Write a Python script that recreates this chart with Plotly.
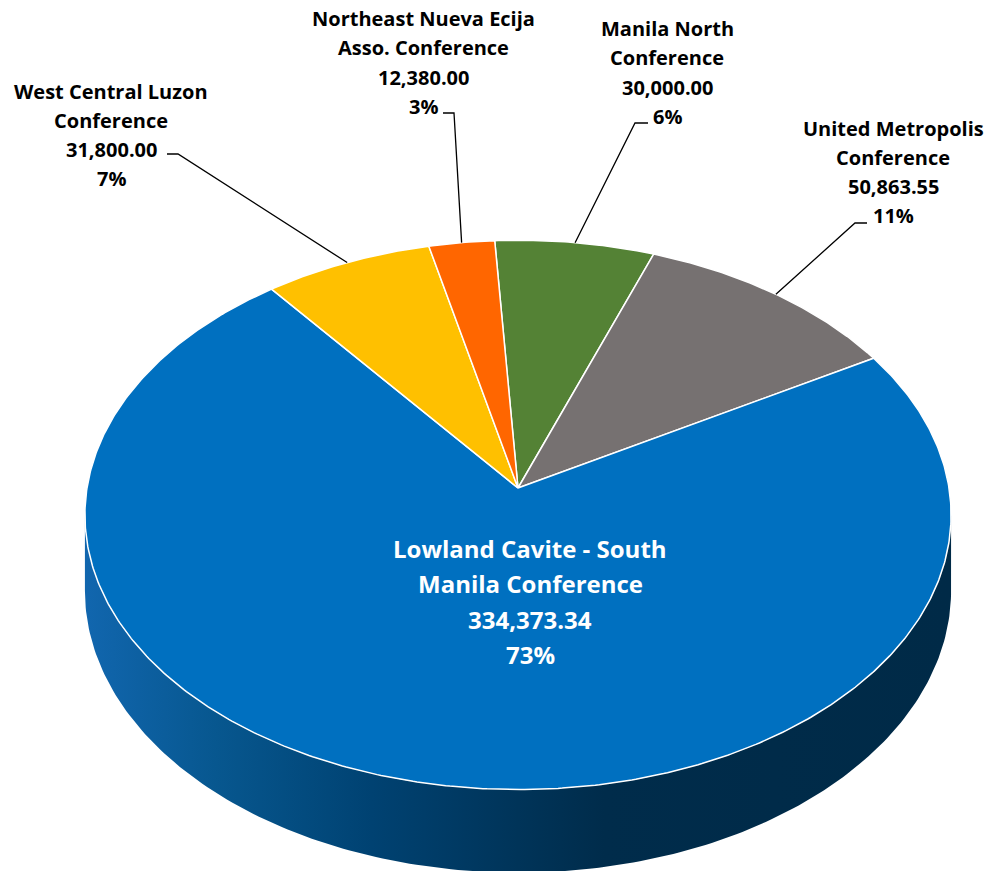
import numpy as np
import plotly.graph_objects as go

# ---------------- data ----------------
categories = [
    "Manila North Conference",
    "United Metropolis Conference",
    "Lowland Cavite - South Manila Conference",
    "West Central Luzon Conference",
    "Northeast Nueva Ecija Asso. Conference",
]
label_lines = [
    ["Manila North", "Conference"],
    ["United Metropolis", "Conference"],
    ["Lowland Cavite - South", "Manila Conference"],
    ["West Central Luzon", "Conference"],
    ["Northeast Nueva Ecija", "Asso. Conference"],
]
values = [30000.00, 50863.55, 334373.34, 31800.00, 12380.00]

# ---------------- style ----------------
colors = ["#548235", "#767171", "#0070C0", "#FFC000", "#FF6600"]
START_ANGLE = -3.4          # first slice angle (deg, clockwise from 12 o'clock)
CX, CY = 518, 488           # pie apex in pixel space
A, B = 431, 272             # horizontal / vertical radii
P = 0.098                   # perspective factor
H = 75                      # wall thickness
FONT = "Open Sans"

# label placement (center x, first line y, line spacing, font size, color)
label_pos = [
    (667, 28, 29.6, 20, "black"),
    (893, 128, 29.3, 20, "black"),
    (530, 548, 35.5, 24, "white"),
    (111, 91, 29.0, 20, "black"),
    (423, 18, 29.6, 20, "black"),
]
# leader anchor and elbow points (None -> no leader)
leaders = [
    ((648, 123), (635, 123)),
    ((867, 223), (855, 223)),
    None,
    ((167, 154), (178, 154)),
    ((443, 113), (454, 113)),
]

# ---------------- computations ----------------
vals = np.array(values, dtype=float)
total = vals.sum()
frac = vals / total
# largest-remainder percentage rounding
raw = frac * 100
pct = np.floor(raw).astype(int)
rem = raw - pct
for i in np.argsort(-rem)[: 100 - pct.sum()]:
    pct[i] += 1

def proj(alpha_deg, drop=0.0):
    a = np.radians(alpha_deg)
    d = 1 + P * np.cos(a)
    x = CX + A * np.sin(a) / d
    y = CY - B * np.cos(a) / d + drop / d
    return x, y

fig = go.Figure()

# side wall (front half)
a_ext = np.degrees(np.arccos(-P))
front = np.linspace(a_ext, 360 - a_ext, 200)
xt, yt = proj(front)
xb, yb = proj(front[::-1], drop=H)
fig.add_trace(go.Scatter(
    x=np.concatenate([xt, xb, xt[:1]]),
    y=np.concatenate([yt, yb, yt[:1]]),
    mode="lines", fill="toself",
    line=dict(width=0, color="rgba(0,0,0,0)"),
    fillgradient=dict(
        type="horizontal",
        colorscale=[[0, "#1166ae"], [0.15, "#07578f"], [0.33, "#004272"],
                    [0.5, "#003459"], [0.6, "#002c4b"], [1, "#002a47"]],
        start=CX - A, stop=CX + A,
    ),
    hoverinfo="skip", showlegend=False,
))

# top face slices
edges = START_ANGLE + np.concatenate([[0], np.cumsum(frac)]) * 360
mids = []
for i in range(len(vals)):
    a0, a1 = edges[i], edges[i + 1]
    n = max(int((a1 - a0) * 2), 8)
    arc = np.linspace(a0, a1, n)
    xs, ys = proj(arc)
    fig.add_trace(go.Scatter(
        x=np.concatenate([[CX], xs, [CX]]),
        y=np.concatenate([[CY], ys, [CY]]),
        mode="lines", fill="toself", fillcolor=colors[i],
        line=dict(color="white", width=1.5),
        hoverinfo="skip", showlegend=False,
    ))
    mids.append(proj((a0 + a1) / 2))

# leader lines
for i, ld in enumerate(leaders):
    if ld is None:
        continue
    (ax, ay), (ex, ey) = ld
    mx, my = mids[i]
    fig.add_trace(go.Scatter(
        x=[ax, ex, mx], y=[ay, ey, my], mode="lines",
        line=dict(color="black", width=1.3),
        hoverinfo="skip", showlegend=False,
    ))

# labels
for i in range(len(vals)):
    cx, y0, sp, fs, col = label_pos[i]
    lines = label_lines[i] + [f"{vals[i]:,.2f}", f"{pct[i]}%"]
    for k, t in enumerate(lines):
        fig.add_annotation(
            x=cx, y=y0 + k * sp, text=t, showarrow=False,
            xanchor="center", yanchor="middle",
            font=dict(family=FONT, size=fs, color=col, weight="bold"),
        )

fig.update_layout(
    width=990, height=871,
    margin=dict(l=0, r=0, t=0, b=0),
    paper_bgcolor="white", plot_bgcolor="white",
    xaxis=dict(range=[0, 990], visible=False, fixedrange=True),
    yaxis=dict(range=[871, 0], visible=False, fixedrange=True),
    showlegend=False,
)

fig.write_html("out.html", config={"displayModeBar": False},
               post_script="document.body.style.margin='0';")
